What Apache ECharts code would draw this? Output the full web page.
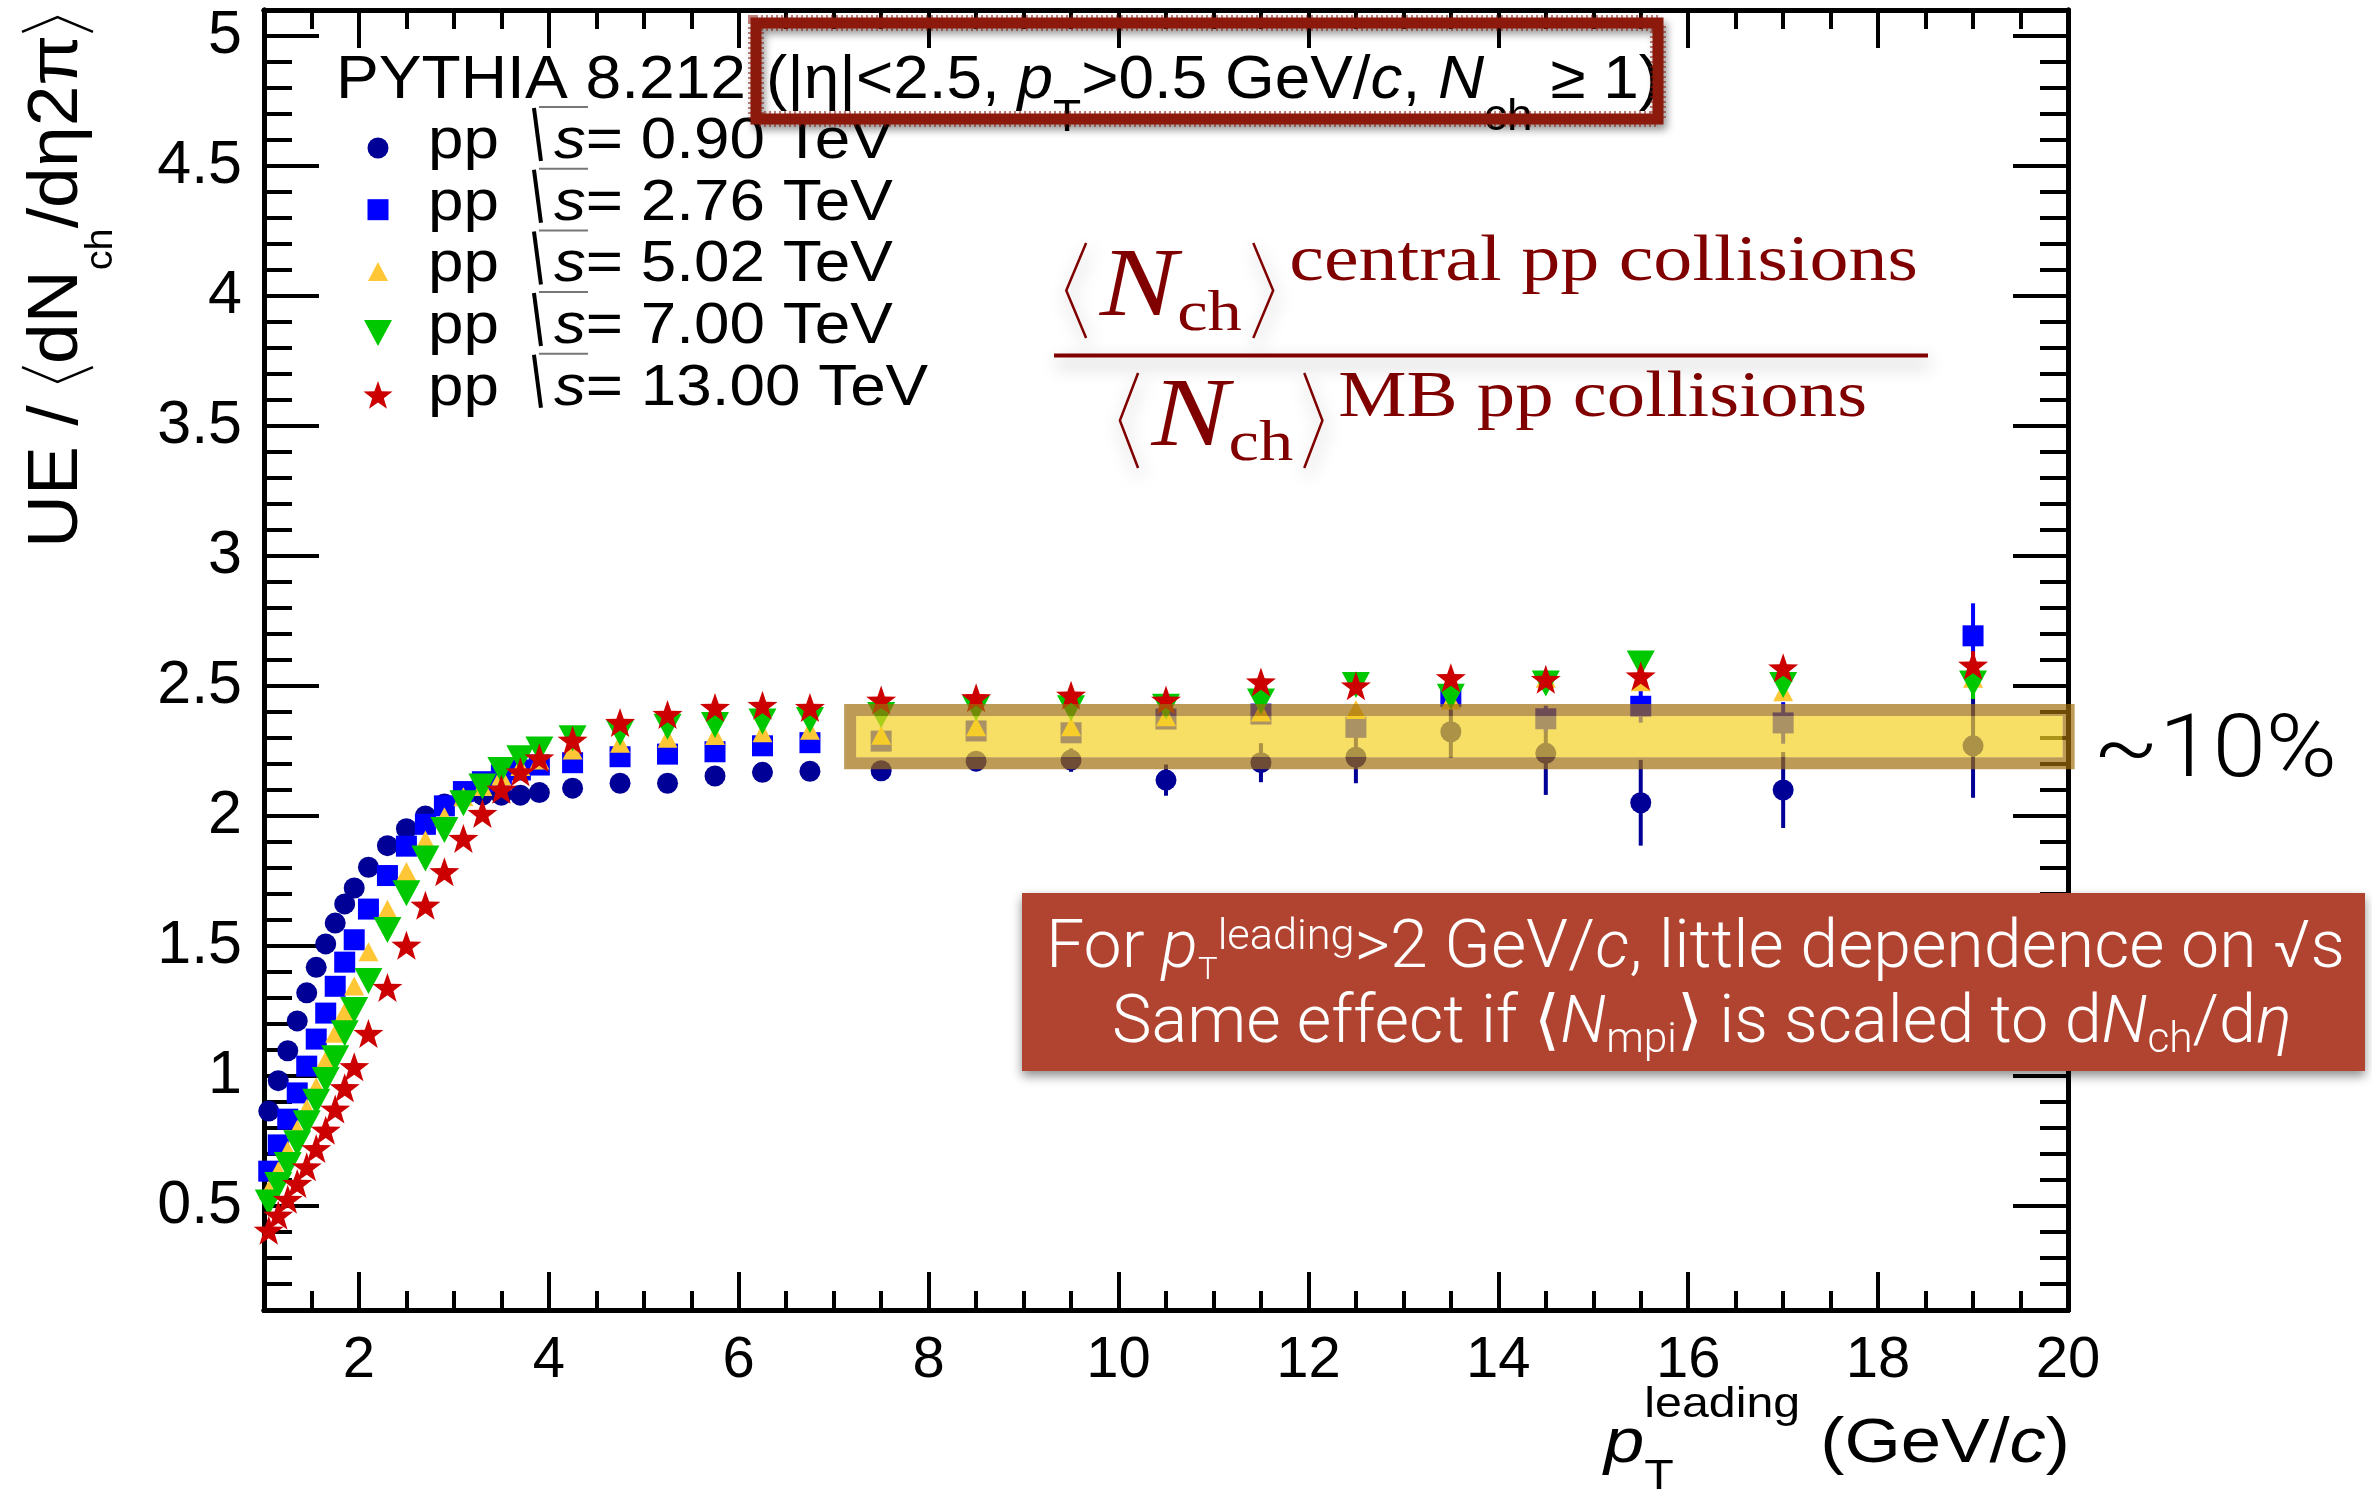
<!DOCTYPE html>
<html><head><meta charset="utf-8">
<script src="https://cdn.jsdelivr.net/npm/echarts@6/dist/echarts.min.js"></script>
<style>html,body{margin:0;padding:0;background:#fff}#c{width:2372px;height:1490px}</style>
</head><body><div id="c"></div>
<script>
// ---------------- data ----------------
const ptLeading = [1.05,1.15,1.25,1.35,1.45,1.55,1.65,1.75,1.85,1.95,
  2.1,2.3,2.5,2.7,2.9,3.1,3.3,3.5,3.7,3.9,
  4.25,4.75,5.25,5.75,6.25,6.75,
  7.5,8.5,9.5,10.5,11.5,12.5,13.5,14.5,
  15.5,17,19];
const energies = ['0.90','2.76','5.02','7.00','13.00'];
const ue090 = [0.865,0.982,1.097,1.212,1.32,1.418,1.508,1.588,1.662,1.723,
  1.803,1.886,1.951,2.0,2.046,2.077,2.08,2.08,2.08,2.09,
  2.107,2.126,2.126,2.154,2.168,2.172,
  2.174,2.211,2.215,2.138,2.205,2.226,2.324,2.241,
  2.051,2.1,2.27];
const ue276 = [0.634,0.735,0.834,0.935,1.038,1.142,1.242,1.345,1.438,1.524,
  1.642,1.771,1.884,1.968,2.039,2.094,2.132,2.158,2.177,2.196,
  2.205,2.228,2.238,2.247,2.27,2.282,
  2.288,2.327,2.32,2.373,2.392,2.341,2.459,2.374,
  2.422,2.358,2.693];
const ue502 = [0.562,0.636,0.713,0.795,0.876,0.959,1.062,1.164,1.247,1.346,
  1.478,1.641,1.787,1.908,1.997,2.074,2.113,2.154,2.19,2.215,
  2.254,2.28,2.299,2.31,2.32,2.33,
  2.311,2.343,2.343,2.382,2.40,2.41,2.446,2.53,
  2.516,2.478,2.53];
const ue700 = [0.513,0.581,0.658,0.741,0.818,0.901,0.985,1.068,1.164,1.254,
  1.365,1.562,1.703,1.837,1.946,2.049,2.113,2.177,2.222,2.256,
  2.299,2.32,2.343,2.35,2.363,2.369,
  2.388,2.414,2.414,2.42,2.44,2.504,2.459,2.51,
  2.587,2.504,2.51];
const ue1300 = [0.401,0.459,0.52,0.581,0.645,0.715,0.786,0.867,0.949,1.03,
  1.158,1.335,1.497,1.651,1.78,1.908,2.004,2.097,2.164,2.218,
  2.286,2.354,2.385,2.412,2.42,2.412,
  2.44,2.449,2.459,2.44,2.51,2.495,2.526,2.52,
  2.533,2.564,2.574];
const err090 = [0,0,0,0,0,0,0,0,0,0, 0,0,0,0,0,0,0,0,0,0, 0,0,0,0,0,0,
  0.02,0.03,0.045,0.06,0.075,0.1,0.1,0.16, 0.165,0.146,0.2];
const err276 = [0,0,0,0,0,0,0,0,0,0, 0,0,0,0,0,0,0,0,0,0, 0,0,0,0,0,0,
  0.01,0.015,0.02,0.025,0.03,0.035,0.04,0.05, 0.063,0.08,0.125];
const err502 = [0,0,0,0,0,0,0,0,0,0, 0,0,0,0,0,0,0,0,0,0, 0,0,0,0,0,0,
  0.01,0.01,0.015,0.015,0.02,0.02,0.025,0.03, 0.035,0.035,0.06];
const err700 = [0,0,0,0,0,0,0,0,0,0, 0,0,0,0,0,0,0,0,0,0, 0,0,0,0,0,0,
  0.01,0.01,0.015,0.015,0.02,0.02,0.025,0.03, 0.035,0.035,0.06];
const err1300 = [0,0,0,0,0,0,0,0,0,0, 0,0,0,0,0,0,0,0,0,0, 0,0,0,0,0,0,
  0.01,0.01,0.015,0.015,0.02,0.02,0.025,0.03, 0.035,0.035,0.06];
const xMajorTicks = [2,4,6,8,10,12,14,16,18,20];
const yMajorTicks = [0.5,1,1.5,2,2.5,3,3.5,4,4.5,5];
const bandX = [7.11, 20.07];
const bandY = [2.18, 2.431];

const xMinorTicks = []; for (let v = 1.5; v < 20; v += 0.5) xMinorTicks.push(Math.round(v*10)/10);
const yMinorTicks = []; for (let k = 2; k <= 50; k++) yMinorTicks.push(k/10);

// ---------------- helpers ----------------
function starPts(cx, cy, R, ratio) {
  const pts = [];
  for (let k = 0; k < 10; k++) {
    const a = k * Math.PI / 5, r = (k % 2) ? R * ratio : R;
    pts.push([cx + r * Math.sin(a), cy - r * Math.cos(a)]);
  }
  return pts;
}
const starPath = 'path://M' + starPts(0, 0, 100, 0.4).map(p => p[0].toFixed(1) + ',' + p[1].toFixed(1)).join('L') + 'Z';

const styles = [
  {name: energies[0], vals: ue090, errs: err090, symbol: 'circle', size: 21, rot: 0, color: '#000096', shape: 'circle', w: 21, h: 21},
  {name: energies[1], vals: ue276, errs: err276, symbol: 'rect', size: 21, rot: 0, color: '#0000ff', shape: 'rect', w: 21, h: 21},
  {name: energies[2], vals: ue502, errs: err502, symbol: 'triangle', size: [20, 19], rot: 0, color: '#ffc636', shape: 'up', w: 20, h: 19},
  {name: energies[3], vals: ue700, errs: err700, symbol: 'triangle', size: [28, 26], rot: 180, color: '#00c800', shape: 'down', w: 28, h: 26},
  {name: energies[4], vals: ue1300, errs: err1300, symbol: starPath, size: [30, 29], rot: 0, color: '#cc0000', shape: 'star', w: 30, h: 29}
];

const mctx = document.createElement('canvas').getContext('2d');
function fontOf(p) { return (p.italic ? 'italic' : 'normal') + ' ' + (p.weight || 'normal') + ' ' + p.size + 'px ' + p.family; }
function widthOf(p) { mctx.font = fontOf(p); mctx.textBaseline = 'alphabetic'; return mctx.measureText(p.text).width; }
function midOf(p) {
  mctx.font = fontOf(p); mctx.textBaseline = 'middle';
  const d = mctx.measureText('H').actualBoundingBoxDescent;
  mctx.textBaseline = 'alphabetic';
  return d;
}
// build a run of text pieces on a common baseline
function run(opt, pieces) {
  const Z = opt.z || 100;
  const defs = pieces.map(p => Object.assign({family: opt.family, size: opt.size, fill: opt.fill, weight: opt.weight}, p));
  let w = 0; const pos = [];
  defs.forEach(p => {
    pos.push(w);
    if (p.text && !p.noAdv) w += widthOf(p);
    if (p.space) w += p.space;
    if (p.bracket) w += p.bw;
  });
  let sx = opt.scaleX || 1;
  if (opt.targetWidth) sx = opt.targetWidth / w;
  const total = w * sx;
  const x0 = opt.anchor === 'right' ? -total : (opt.anchor === 'center' ? -total / 2 : 0);
  const children = [];
  const sh = opt.shadow || {};
  defs.forEach((p, i) => {
    const lx = x0 + pos[i] * sx;
    const dy = p.dy || 0;
    if (p.text) {
      children.push({type: 'text', z: Z, x: lx, y: dy - midOf(p), scaleX: sx,
        style: Object.assign({text: p.text, fill: p.fill, fontSize: p.size, fontFamily: p.family,
          fontStyle: p.italic ? 'italic' : 'normal', fontWeight: p.weight || 'normal',
          align: 'left', verticalAlign: 'middle'}, sh)});
    }
    if (p.bracket) {
      const bw = p.bw * sx, mid = (p.top + p.bot) / 2;
      const pts = p.bracket === '<'
        ? [[lx + bw * 0.85, p.top], [lx + bw * 0.15, mid], [lx + bw * 0.85, p.bot]]
        : [[lx + bw * 0.15, p.top], [lx + bw * 0.85, mid], [lx + bw * 0.15, p.bot]];
      children.push({type: 'polyline', z: Z, shape: {points: pts}, style: Object.assign({stroke: p.fill, lineWidth: p.lw || 3, fill: null}, sh)});
    }
    if (p.draw) p.draw(children, lx, sx, Z);
  });
  return {type: 'group', x: opt.x, y: opt.y, rotation: opt.rotation || 0, z: Z, children};
}

function markerGraphic(s, cx, cy) {
  const st = {fill: s.color};
  if (s.shape === 'circle') return {type: 'circle', shape: {cx, cy, r: s.w / 2}, style: st, z: 100};
  if (s.shape === 'rect') return {type: 'rect', shape: {x: cx - s.w / 2, y: cy - s.h / 2, width: s.w, height: s.h}, style: st, z: 100};
  if (s.shape === 'up') return {type: 'polygon', shape: {points: [[cx, cy - s.h / 2], [cx + s.w / 2, cy + s.h / 2], [cx - s.w / 2, cy + s.h / 2]]}, style: st, z: 100};
  if (s.shape === 'down') return {type: 'polygon', shape: {points: [[cx, cy + s.h / 2], [cx + s.w / 2, cy - s.h / 2], [cx - s.w / 2, cy - s.h / 2]]}, style: st, z: 100};
  return {type: 'polygon', shape: {points: starPts(cx, cy + 1.5, s.w / 2 / 0.951 * 0.97, 0.4)}, style: st, z: 100};
}

// ---------------- graphics (annotations) ----------------
const SANS = 'Liberation Sans', SERIF = 'Liberation Serif', LIGHT = 'Roboto';
const graphics = [];

// header
graphics.push(run({x: 336, y: 98, family: SANS, size: 61, fill: '#000', targetWidth: 410}, [{text: 'PYTHIA 8.212'}]));
graphics.push(run({x: 766, y: 98, family: SANS, size: 61, fill: '#000', targetWidth: 894}, [
  {text: '(|η|<2.5, '}, {text: 'p', italic: true}, {text: 'T', size: 44, dy: 33}, {text: '>0.5 GeV/'},
  {text: 'c', italic: true}, {text: ', '}, {text: 'N', italic: true}, {text: 'ch', size: 44, dy: 32}, {text: ' ≥ 1)'}
]));
// red box around the selection (solid core + fuzzy dashed rim)
graphics.push({type: 'rect', z: 101, shape: {x: 756, y: 23, width: 902, height: 96},
  style: {fill: null, stroke: '#8c1a0c', lineWidth: 11, shadowBlur: 8, shadowColor: 'rgba(0,0,0,0.45)', shadowOffsetX: 3, shadowOffsetY: 5}});
graphics.push({type: 'rect', z: 101, shape: {x: 756, y: 23, width: 902, height: 96},
  style: {fill: null, stroke: 'rgba(140,26,12,0.55)', lineWidth: 16, lineDash: [2, 3]}});

// legend
styles.forEach((s, i) => {
  const base = 158 + 61.7 * i;
  graphics.push(markerGraphic(s, 378, base - 10));
  graphics.push(run({x: 428, y: base, family: SANS, size: 58, fill: '#000', scaleX: 1.1}, [
    {text: 'pp'}, {space: 50},
    {text: 's', italic: true, draw: (ch, lx, sx, Z) => {
      ch.push({type: 'line', z: Z, shape: {x1: lx - 20, y1: -50, x2: lx - 13, y2: 3}, style: {stroke: '#000', lineWidth: 4}});
      ch.push({type: 'line', z: Z, shape: {x1: lx - 15, y1: -51, x2: lx + 34, y2: -51}, style: {stroke: '#777', lineWidth: 2}});
    }},
    {text: '= ' + s.name + ' TeV'}
  ]));
});

// ratio formula
const fshadow = {shadowBlur: 18, shadowColor: 'rgba(0,0,0,0.35)', shadowOffsetX: 2, shadowOffsetY: 8};
const FR = '#800000';
graphics.push(run({x: 1062, y: 315, family: SERIF, size: 98, fill: FR, targetWidth: 856, shadow: fshadow}, [
  {bracket: '<', bw: 24, top: -72, bot: 23, lw: 2.5}, {space: 8},
  {text: 'N', italic: true}, {text: 'ch', size: 58, dy: 15}, {space: 6},
  {bracket: '>', bw: 24, top: -72, bot: 23, lw: 2.5}, {space: 10},
  {text: 'central pp collisions', size: 66, dy: -35}
]));
graphics.push(run({x: 1116, y: 445, family: SERIF, size: 98, fill: FR, targetWidth: 751, shadow: fshadow}, [
  {bracket: '<', bw: 22, top: -72, bot: 23, lw: 2.5}, {space: 8},
  {text: 'N', italic: true}, {text: 'ch', size: 58, dy: 15}, {space: 6},
  {bracket: '>', bw: 22, top: -72, bot: 23, lw: 2.5}, {space: 10},
  {text: 'MB pp collisions', size: 65, dy: -29}
]));
graphics.push({type: 'line', z: 100, shape: {x1: 1054, y1: 355.5, x2: 1928, y2: 355.5}, style: Object.assign({stroke: FR, lineWidth: 4}, fshadow)});

// ~10%
graphics.push(run({x: 2093, y: 776, family: LIGHT, size: 88, weight: 300, fill: '#000', targetWidth: 244}, [{text: '~10%'}]));

// bottom annotation box
graphics.push({type: 'rect', z: 100, shape: {x: 1022, y: 893, width: 1343, height: 178},
  style: {fill: '#b14331', shadowBlur: 10, shadowColor: 'rgba(0,0,0,0.45)', shadowOffsetY: 5}});
graphics.push(run({x: 1046, y: 967, family: LIGHT, size: 66, weight: 300, fill: '#fff', targetWidth: 1299, z: 102}, [
  {text: 'For '}, {text: 'p', italic: true}, {text: 'T', size: 32, dy: 12}, {text: 'leading', size: 42, dy: -18},
  {text: '>2 GeV/'}, {text: 'c', italic: true}, {text: ', little dependence on √s'}
]));
graphics.push(run({x: 1112, y: 1042, family: LIGHT, size: 66, weight: 300, fill: '#fff', targetWidth: 1180, z: 102}, [
  {text: 'Same effect if ⟨'}, {text: 'N', italic: true}, {text: 'mpi', size: 42, dy: 10},
  {text: '⟩ is scaled to d'}, {text: 'N', italic: true}, {text: 'ch', size: 42, dy: 10},
  {text: '/d'}, {text: 'η', italic: true}
]));

// axis titles
graphics.push(run({x: 2070, y: 1462, family: SANS, size: 63, fill: '#000', anchor: 'right', targetWidth: 466}, [
  {text: 'p', italic: true}, {text: 'T', size: 42, dy: 27, noAdv: true}, {text: 'leading', size: 42, dy: -45},
  {text: ' (GeV/'}, {text: 'c', italic: true}, {text: ')'}
]));
graphics.push(run({x: 77, y: 548, rotation: Math.PI / 2, family: SANS, size: 70, fill: '#000', targetWidth: 534}, [
  {text: 'UE / '}, {bracket: '<', bw: 20, top: -55, bot: 16, lw: 2.5}, {text: 'dN'}, {text: 'ch', size: 38, dy: 35},
  {text: '/d'}, {text: 'η'}, {text: '2π'}, {bracket: '>', bw: 20, top: -55, bot: 16, lw: 2.5}
]));

// ---------------- chart ----------------
const axisCommon = {type: 'value', gridIndex: 0, splitLine: {show: false}};
function xAx(pos, ticks, len, labels) {
  return Object.assign({}, axisCommon, {min: 1, max: 20, position: pos,
    axisLine: {show: true, onZero: false, lineStyle: {color: '#000', width: 5}},
    axisTick: {show: true, inside: true, length: len, customValues: ticks, lineStyle: {color: '#000', width: 4}},
    axisLabel: labels ? {show: true, customValues: ticks, fontSize: 58, fontFamily: SANS, color: '#000', margin: 22} : {show: false}});
}
function yAx(pos, ticks, len, labels) {
  return Object.assign({}, axisCommon, {min: 0.1, max: 5.1, position: pos,
    axisLine: {show: true, onZero: false, lineStyle: {color: '#000', width: 5}},
    axisTick: {show: true, inside: true, length: len, customValues: ticks, lineStyle: {color: '#000', width: 4}},
    axisLabel: labels ? {show: true, customValues: ticks, fontSize: 61, fontFamily: SANS, color: '#000', margin: 22} : {show: false}});
}

const series = [];
styles.forEach(s => {
  series.push({type: 'custom', xAxisIndex: 0, yAxisIndex: 0, z: 2, silent: true, clip: false,
    data: ptLeading.map((x, i) => [x, s.vals[i], s.errs[i]]),
    renderItem: (params, api) => {
      const e = api.value(2);
      if (!e) return null;
      const p1 = api.coord([api.value(0), api.value(1) - e]);
      const p2 = api.coord([api.value(0), api.value(1) + e]);
      return {type: 'line', shape: {x1: p1[0], y1: p1[1], x2: p2[0], y2: p2[1]}, style: {stroke: s.color, lineWidth: 4}};
    }});
});
styles.forEach(s => {
  series.push({type: 'scatter', name: 'pp √s = ' + s.name + ' TeV', xAxisIndex: 0, yAxisIndex: 0, z: 3, silent: true, clip: false,
    data: ptLeading.map((x, i) => [x, s.vals[i]]),
    symbol: s.symbol, symbolSize: s.size, symbolRotate: s.rot,
    symbolOffset: s.shape === 'star' ? [0, -1.5] : [0, 0],
    itemStyle: {color: s.color, opacity: 1}});
});
// highlighted ~10% band
series.push({type: 'custom', xAxisIndex: 0, yAxisIndex: 0, z: 5, silent: true, clip: false,
  data: [[bandX[0], bandX[1], bandY[0], bandY[1]]],
  renderItem: (params, api) => {
    const p0 = api.coord([api.value(0), api.value(3)]);
    const p1 = api.coord([api.value(1), api.value(2)]);
    const bw = 12, w = p1[0] - p0[0], h = p1[1] - p0[1];
    return {type: 'group', children: [
      {type: 'rect', shape: {x: p0[0] + bw, y: p0[1] + bw, width: w - 2 * bw, height: h - 2 * bw}, style: {fill: 'rgba(243,208,36,0.7)'}},
      {type: 'rect', shape: {x: p0[0] + bw / 2, y: p0[1] + bw / 2, width: w - bw, height: h - bw}, style: {fill: null, stroke: 'rgba(160,110,10,0.69)', lineWidth: bw}}
    ]};
  }});

const chart = echarts.init(document.getElementById('c'), null, {renderer: 'canvas'});
chart.setOption({
  animation: false,
  backgroundColor: '#fff',
  grid: {left: 264, right: 304, top: 10, bottom: 180, containLabel: false},
  xAxis: [xAx('bottom', xMajorTicks, 38, true), xAx('bottom', xMinorTicks, 19, false), xAx('top', xMajorTicks, 38, false), xAx('top', xMinorTicks, 19, false)],
  yAxis: [yAx('left', yMajorTicks, 55, true), yAx('left', yMinorTicks, 28, false), yAx('right', yMajorTicks, 55, false), yAx('right', yMinorTicks, 28, false)],
  series: series,
  graphic: {elements: graphics}
});
</script>
</body></html>
